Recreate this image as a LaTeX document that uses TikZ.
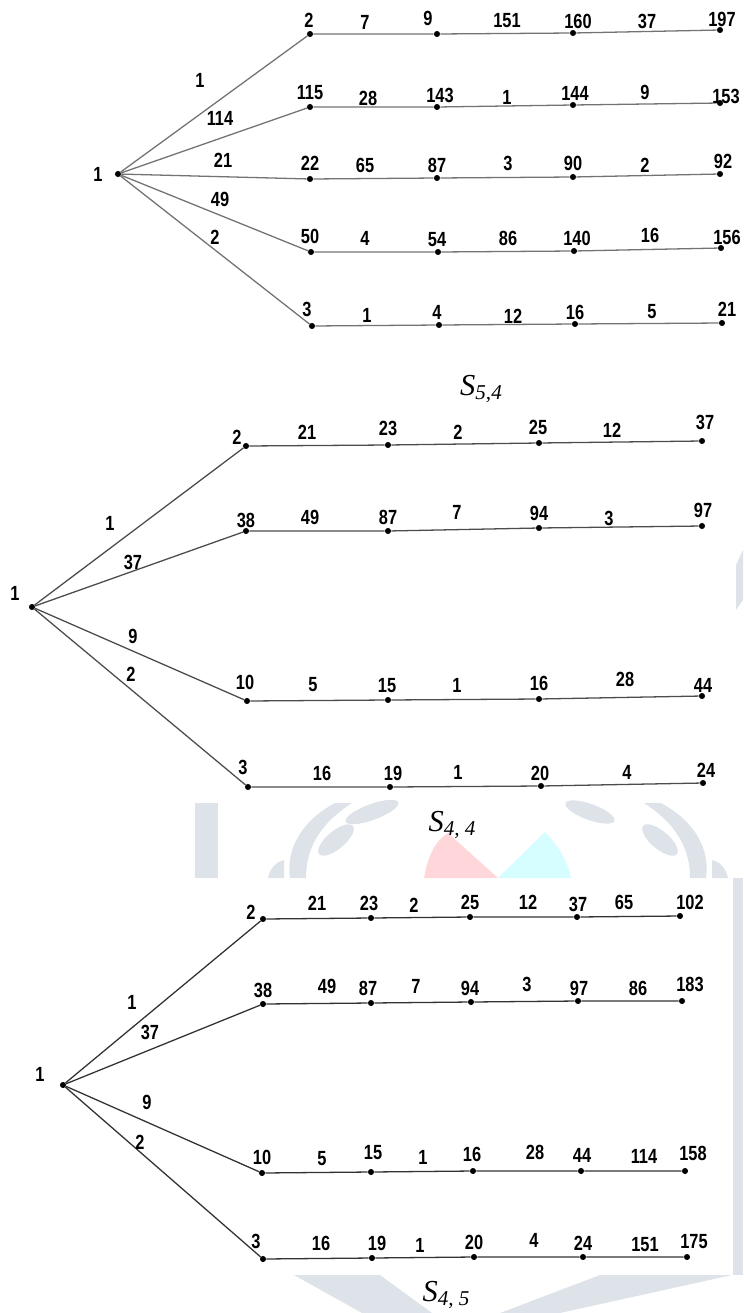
\documentclass[tikz,border=0pt]{standalone}
\usepackage{fontspec}
\setmainfont{Liberation Sans}
\newfontfamily\numfont{Liberation Sans}[FakeStretch=0.8]
\newfontfamily\capfont{Liberation Serif}
\definecolor{wmgray}{HTML}{DDE3E8}
\definecolor{wmpink}{HTML}{FFD6DA}
\definecolor{wmcyan}{HTML}{D6FDFF}
\tikzset{
  vtx/.style={circle, fill=black, inner sep=0pt, minimum size=5.2pt},
  num/.style={font=\numfont\bfseries\fontsize{17.5}{17.5}\selectfont, inner sep=0pt},
  branch/.style={line width=1.1pt, draw=#1},
  branch/.default=black!70,
  wm/.style={fill=#1, draw=none},
  wm/.default=wmgray
}
\newcommand{\capt}[1]{{\capfont\itshape\fontsize{26}{26}\selectfont S\raisebox{-3.5pt}{\fontsize{18}{18}\selectfont #1}}}

\begin{document}
\begin{tikzpicture}[x=0.03cm, y=-0.03cm]
    \useasboundingbox (0,0) rectangle (743,1313);

    % watermark
    \fill[wm] (195,803) rectangle (218,878);
    \fill[wm] (335,803) .. controls (300,822) and (286,850) .. (290,878) -- (306,878) .. controls (306,850) and (318,825) .. (352,803) -- cycle;
    \fill[wm] (661,803) .. controls (696,822) and (710,850) .. (706,878) -- (690,878) .. controls (690,850) and (678,825) .. (644,803) -- cycle;
    \fill[wm, rotate around={20:(372,812)}] (372,812) ellipse [x radius=28, y radius=8];
    \fill[wm, rotate around={-20:(590,812)}] (590,812) ellipse [x radius=26, y radius=8];
    \fill[wm, rotate around={-40:(660,840)}] (660,840) ellipse [x radius=22, y radius=9];
    \fill[wm, rotate around={40:(336,840)}] (336,840) ellipse [x radius=22, y radius=9];
    \fill[wm] (268,878) .. controls (270,868) and (276,862) .. (284,860) -- (284,878) -- cycle;
    \fill[wm] (728,878) .. controls (726,868) and (720,862) .. (712,860) -- (712,878) -- cycle;
    \fill[wm=wmpink] (424,878) .. controls (428,855) and (436,840) .. (448,833) -- (498,878) -- cycle;
    \fill[wm=wmcyan] (498,878) -- (545,832) .. controls (558,845) and (568,862) .. (571,878) -- cycle;
    \fill[wm] (736,565) -- (743,550) -- (743,600) -- (736,610) -- cycle;
    \fill[wm] (733,878) rectangle (743,1275);
    \fill[wm] (294,1275) -- (380,1275) -- (432,1313) -- (362,1313) -- cycle;
    \fill[wm] (600,1275) -- (732,1275) -- (560,1313) -- (500,1313) -- cycle;

    % S_{5,4}
    \node[vtx] (A0) at (118,174) {};
    \node[num] (lA0) at (98,174) {1};
    \foreach \n/\x/\y in {A11/310/34, A12/437/34, A13/573/33, A14/720/30,
                          A21/310/107, A22/437/107, A23/573/105, A24/720/103,
                          A31/310/179, A32/437/178, A33/573/177, A34/720/174,
                          A41/311/252, A42/438/252, A43/574/251, A44/721/248,
                          A51/312/326, A52/439/325, A53/575/324, A54/722/323}
        \node[vtx] (\n) at (\x,\y) {};
    \foreach \row in {1,...,5}
        \draw[branch=black!55] (A0) -- (A\row1) -- (A\row2) -- (A\row3) -- (A\row4);
    \foreach \n/\x/\y/\txt in {lA11/309/20/2, lA12/428/18/9, lA13/578/21/160, lA14/722/19/197,
                               lA21/310/93/115, lA22/440/95/143, lA23/575/93/144, lA24/726/96/153,
                               lA31/310/163/22, lA32/437/165/87, lA33/573/163/90, lA34/723/161/92,
                               lA41/310/236/50, lA42/437/240/54, lA43/577/238/140, lA44/727/237/156,
                               lA51/307/309/3, lA52/437/312/4, lA53/575/312/16, lA54/727/309/21,
                               eA01/200/80/1, eA02/220/118/114, eA03/223/160/21, eA04/220/199/49, eA05/215/237/2,
                               eA11/365/22/7, eA12/507/21/151, eA13/647/21/37,
                               eA21/368/98/28, eA22/507/97/1, eA23/645/92/9,
                               eA31/365/165/65, eA32/508/163/3, eA33/645/165/2,
                               eA41/365/238/4, eA42/508/238/86, eA43/650/235/16,
                               eA51/367/315/1, eA52/513/316/12, eA53/652/312/5}
        \node[num] (\n) at (\x,\y) {\txt};
    \node (capA) at (481,389) {\capt{5,4}};

    % S_{4,4}
    \node[vtx] (B0) at (32,607) {};
    \node[num] (lB0) at (15,593) {1};
    \foreach \n/\x/\y in {B11/246/446, B12/388/445, B13/539/443, B14/702/441,
                          B21/246/531, B22/388/531, B23/539/528, B24/702/526,
                          B31/247/701, B32/388/700, B33/539/699, B34/702/696,
                          B41/248/787, B42/390/787, B43/541/786, B44/703/783}
        \node[vtx] (\n) at (\x,\y) {};
    \foreach \row in {1,...,4}
        \draw[branch] (B0) -- (B\row1) -- (B\row2) -- (B\row3) -- (B\row4);
    \foreach \n/\x/\y/\txt in {lB11/237/437/2, lB12/388/428/23, lB13/538/427/25, lB14/705/422/37,
                               lB21/246/520/38, lB22/388/517/87, lB23/539/513/94, lB24/703/510/97,
                               lB31/245/682/10, lB32/387/686/15, lB33/539/683/16, lB34/703/685/44,
                               lB41/243/767/3, lB42/393/773/19, lB43/540/773/20, lB44/706/770/24,
                               eB01/110/523/1, eB02/133/562/37, eB03/133/636/9, eB04/131/674/2,
                               eB11/307/432/21, eB12/458/432/2, eB13/612/430/12,
                               eB21/310/517/49, eB22/457/512/7, eB23/609/518/3,
                               eB31/313/685/5, eB32/457/685/1, eB33/625/679/28,
                               eB41/322/773/16, eB42/458/772/1, eB43/627/772/4}
        \node[num] (\n) at (\x,\y) {\txt};
    \node (capB) at (452,825) {\capt{4, 4}};

    % S_{4,5}
    \node[vtx] (C0) at (63,1085) {};
    \node[num] (lC0) at (40,1074) {1};
    \foreach \n/\x/\y in {C11/263/919, C12/371/918, C13/470/917, C14/577/917, C15/680/916,
                          C21/263/1004, C22/371/1003, C23/471/1002, C24/578/1001, C25/682/1001,
                          C31/262/1173, C32/371/1172, C33/473/1171, C34/581/1171, C35/685/1171,
                          C41/263/1259, C42/372/1258, C43/474/1257, C44/583/1257, C45/687/1257}
        \node[vtx] (\n) at (\x,\y) {};
    \foreach \row in {1,...,4}
        \draw[branch=black!80] (C0) -- (C\row1) -- (C\row2) -- (C\row3) -- (C\row4) -- (C\row5);
    \foreach \n/\x/\y/\txt in {lC11/251/912/2, lC12/369/903/23, lC13/470/902/25, lC14/578/904/37, lC15/690/902/102,
                               lC21/263/990/38, lC22/368/988/87, lC23/470/988/94, lC24/579/988/97, lC25/690/984/183,
                               lC31/262/1157/10, lC32/373/1153/15, lC33/472/1154/16, lC34/582/1155/44, lC35/693/1153/158,
                               lC41/256/1241/3, lC42/377/1243/19, lC43/474/1242/20, lC44/583/1243/24, lC45/694/1242/175,
                               eC01/132/1002/1, eC02/150/1032/37, eC03/147/1102/9, eC04/140/1142/2,
                               eC11/317/903/21, eC12/414/905/2, eC13/528/902/12, eC14/624/902/65,
                               eC21/327/986/49, eC22/416/986/7, eC23/527/984/3, eC24/638/988/86,
                               eC31/322/1159/5, eC32/423/1157/1, eC33/535/1152/28, eC34/644/1156/114,
                               eC41/321/1243/16, eC42/420/1245/1, eC43/534/1240/4, eC44/645/1245/151}
        \node[num] (\n) at (\x,\y) {\txt};
    \node (capC) at (446,1295) {\capt{4, 5}};
\end{tikzpicture}
\end{document}
